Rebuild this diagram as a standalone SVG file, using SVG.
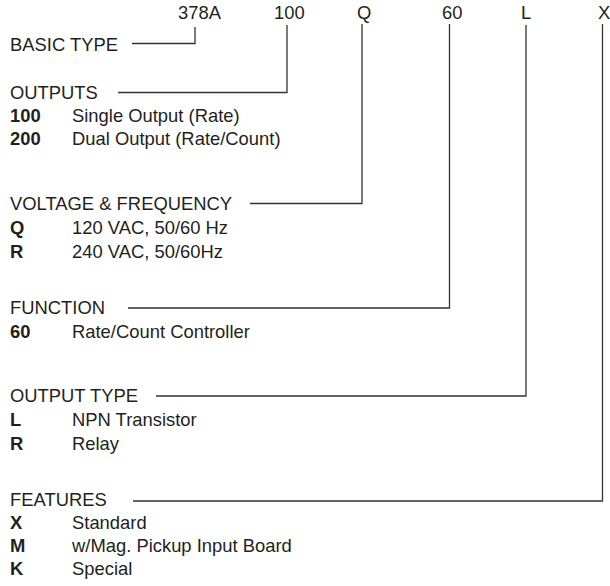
<svg xmlns="http://www.w3.org/2000/svg" width="610" height="586" viewBox="0 0 610 586">
<style>
text{font-family:"Liberation Sans",Arial,sans-serif;font-size:18.4px;fill:#231f20}
.b{font-weight:bold}
.c{fill:none;stroke:#333;stroke-width:1.3}
</style>
<rect width="610" height="586" fill="#fff"/>
<g id="codes">
<text x="178" y="19">378A</text>
<text x="274" y="19">100</text>
<text x="357" y="19">Q</text>
<text x="442" y="19">60</text>
<text x="521" y="19">L</text>
<text x="598" y="19">X</text>
</g>
<g id="basic-type"><text x="10" y="51">BASIC TYPE</text></g>
<g id="outputs">
<text x="10" y="99">OUTPUTS</text>
<text class="b" x="10" y="122">100</text><text x="72" y="122">Single Output (Rate)</text>
<text class="b" x="10" y="145">200</text><text x="72" y="145">Dual Output (Rate/Count)</text>
</g>
<g id="voltage">
<text x="10" y="210">VOLTAGE &amp; FREQUENCY</text>
<text class="b" x="10" y="234">Q</text><text x="72" y="234">120 VAC, 50/60 Hz</text>
<text class="b" x="10" y="258">R</text><text x="72" y="258">240 VAC, 50/60Hz</text>
</g>
<g id="function">
<text x="10" y="314">FUNCTION</text>
<text class="b" x="10" y="338">60</text><text x="72" y="338">Rate/Count Controller</text>
</g>
<g id="output-type">
<text x="10" y="402">OUTPUT TYPE</text>
<text class="b" x="10" y="426">L</text><text x="72" y="426">NPN Transistor</text>
<text class="b" x="10" y="450">R</text><text x="72" y="450">Relay</text>
</g>
<g id="features">
<text x="10" y="506">FEATURES</text>
<text class="b" x="10" y="529">X</text><text x="72" y="529">Standard</text>
<text class="b" x="10" y="552">M</text><text x="72" y="552">w/Mag. Pickup Input Board</text>
<text class="b" x="10" y="575">K</text><text x="72" y="575">Special</text>
</g>
<g id="connectors">
<polyline class="c" points="132,43.5 195,43.5 195,27"/>
<polyline class="c" points="118,92.5 287,92.5 287,25"/>
<polyline class="c" points="250,203.5 362,203.5 362,24"/>
<polyline class="c" points="128,308 449.5,308 449.5,24"/>
<polyline class="c" points="156,396 526,396 526,25"/>
<polyline class="c" points="133,501 602.5,501 602.5,24"/>
</g>
</svg>
